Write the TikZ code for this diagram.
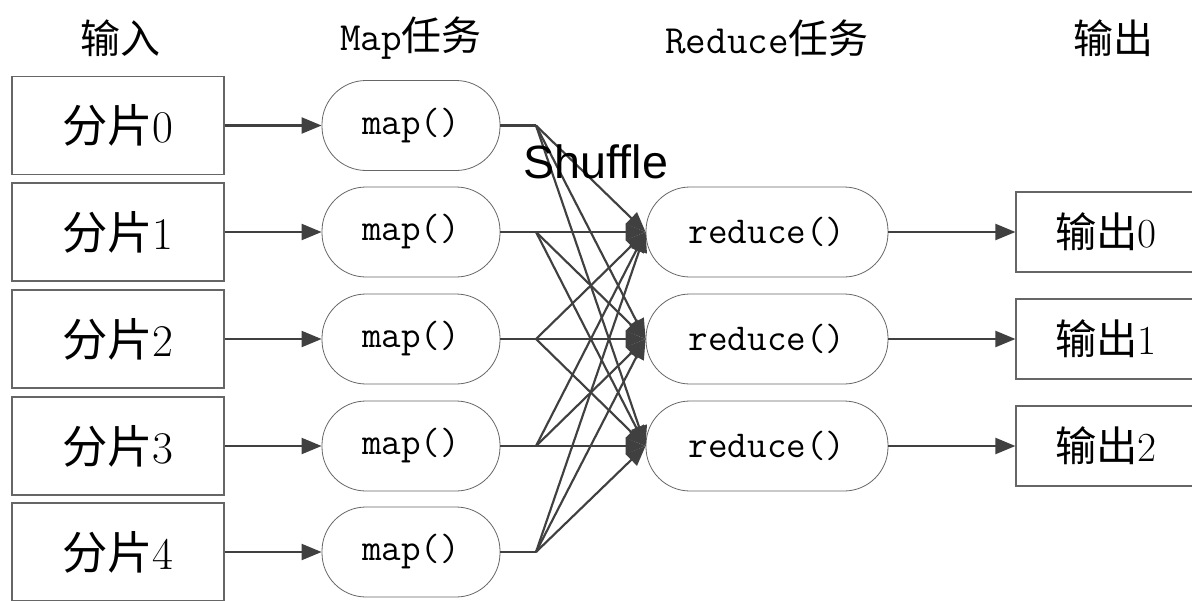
\documentclass[tikz,border=0pt]{standalone}
\usepackage{fontspec}
\newfontfamily\cjk{Noto Sans CJK SC}
\newfontfamily\shf{Liberation Sans}
\usetikzlibrary{arrows.meta}
\definecolor{ln}{HTML}{404040}
\definecolor{bd}{HTML}{666666}
\tikzset{
  inbox/.style={draw=bd, line width=0.9pt, minimum width=159pt, minimum height=73.5pt, inner sep=0pt, font=\fontsize{34}{40}\selectfont},
  mapbox/.style={draw=bd, line width=0.6pt, rounded corners=33pt, minimum width=133.5pt, minimum height=67.5pt, inner sep=0pt, font=\fontsize{28.5}{34}\selectfont\ttfamily},
  redbox/.style={mapbox, minimum width=181.5pt},
  outbox/.style={draw=bd, line width=0.9pt, minimum width=135pt, minimum height=60pt, inner sep=0pt, font=\fontsize{31}{36}\selectfont},
  hdr/.style={font=\fontsize{30}{36}\selectfont, inner sep=0pt},
  arr/.style={draw=ln, line width=1.6pt, -{Triangle[length=15pt,width=12pt]}},
  ln/.style={draw=ln, line width=1.6pt}
}
\begin{document}
\begin{tikzpicture}[x=0.75pt,y=-0.75pt]
\clip (0,0) rectangle (1192,600);
\fill[white] (0,0) rectangle (1192,600);
% headers
\node[hdr] (h1) at (120,38) {\cjk 输入};
\node[hdr] (h2) at (411,38) {\ttfamily Map\cjk 任务};
\node[hdr] (h3) at (767,38) {\ttfamily Reduce\cjk 任务};
\node[hdr] (h4) at (1113,38) {\cjk 输出};
% inputs and maps
\foreach \i/\y in {0/125.5,1/232,2/339,3/446,4/552}{
  \node[inbox] (in\i) at (118,\y) {{\cjk 分片}\i};
  \node[mapbox] (map\i) at (411,\y) {map()};
  \coordinate (J\i) at (536,\y);
  \draw[arr] (in\i.east) -- (map\i.west);
  \draw[ln] (map\i.east) -- (J\i);
}
% reduces and outputs
\foreach \j/\y in {0/232,1/339,2/446}{
  \node[redbox] (red\j) at (767,\y) {reduce()};
  \node[outbox] (out\j) at (1106,\y) {{\cjk 输出}\j};
  \draw[arr] (red\j.east) -- (out\j.west);
}
% shuffle
\foreach \i in {0,...,4}{
  \foreach \j in {0,1,2}{
    \draw[arr] (J\i) -- (red\j.west);
  }
}
\node[font=\fontsize{35}{40}\selectfont\shf, inner sep=0pt] (sh) at (596,162) {Shuffle};
\end{tikzpicture}
\end{document}
